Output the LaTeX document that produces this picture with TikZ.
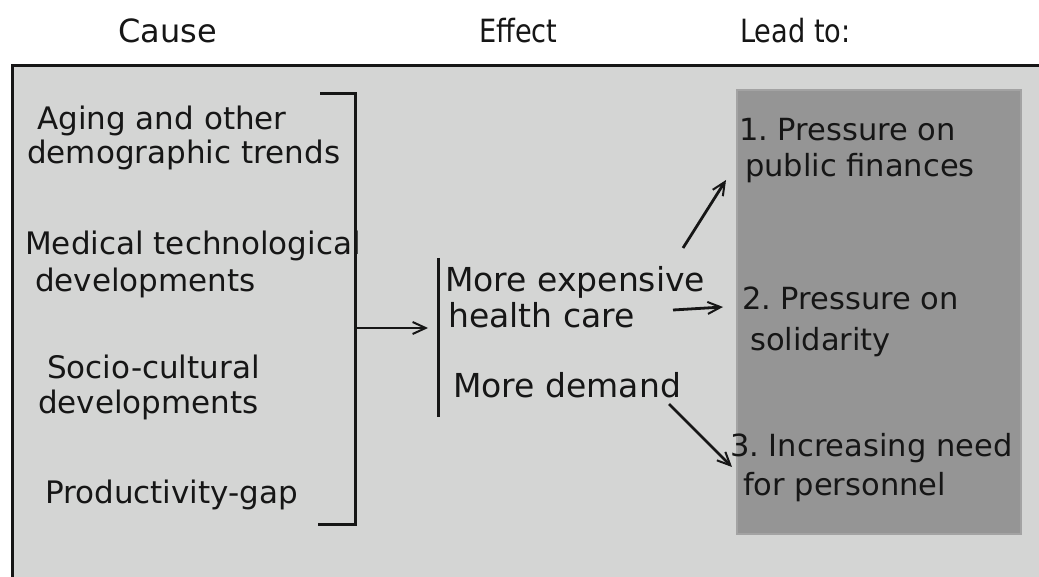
\documentclass[tikz,border=0pt]{standalone}
\usepackage{fontspec}
\setmainfont{DejaVu Sans}
\usetikzlibrary{arrows.meta}
\definecolor{panel}{HTML}{D4D5D4}
\definecolor{darkpanel}{HTML}{959595}
\definecolor{darkedge}{HTML}{A3A3A3}
\definecolor{ink}{HTML}{161616}
\frenchspacing
\begin{document}
\begin{tikzpicture}[x=1pt,y=-1pt,
  txt/.style={anchor=base west,inner sep=0pt,font=\fontsize{30.5}{36}\selectfont,text=ink},
  ltxt/.style={txt,font=\fontsize{31}{36}\selectfont},
  etxt/.style={txt,font=\fontsize{33}{38}\selectfont},
  htxt/.style={txt,font=\fontsize{32}{38}\selectfont},
  rule/.style={line width=3pt,draw=ink},
  arr/.style={line width=2.8pt,draw=ink,-{Straight Barb[length=13pt,width=12pt,line width=2pt]}}]
\useasboundingbox (0,0) rectangle (1039,577);
\clip (0,0) rectangle (1039,577);
% panels
\fill[white] (0,0) rectangle (1039,577);
\fill[panel] (12,66) rectangle (1045,590);
\draw[rule] (12,590) -- (12,66) -- (1045,66);
\filldraw[fill=darkpanel,draw=darkedge,line width=2pt] (737,90) rectangle (1021,534);
% headers
\node[htxt] (hcause) at (118,43) {Cause};
\node[htxt,xscale=0.85,transform shape] (heffect) at (479,43) {Effect};
\node[htxt,xscale=0.85,transform shape] (hlead) at (740,43) {Lead to:};
% causes
\node[ltxt] (c1a) at (37,130) {Aging and other};
\node[ltxt] (c1b) at (27,164) {demographic trends};
\node[ltxt] (c2a) at (25,255) {Medical technological};
\node[ltxt] (c2b) at (35,292) {developments};
\node[ltxt] (c3a) at (47,378) {Socio-cultural};
\node[ltxt] (c3b) at (38,413) {developments};
\node[ltxt] (c4) at (45,503) {Productivity-gap};
% bracket
\coordinate (btop) at (320,94);
\coordinate (btopr) at (355,94);
\coordinate (bbotr) at (355,524);
\coordinate (bbot) at (318,524);
\coordinate (bmid) at (355,328);
\draw[rule] (btop) -- (btopr) -- (bbotr) -- (bbot);
% effect bar
\coordinate (etop) at (438,258);
\coordinate (ebot) at (438,417);
\coordinate (emid) at (428,328);
\draw[rule] (etop) -- (ebot);
\draw[arr] (bmid) -- (emid);
% effects
\node[etxt] (e1a) at (445,292) {More expensive};
\node[etxt] (e1b) at (448,328) {health care};
\node[etxt] (e2) at (453,397) {More demand};
% consequences
\node[txt] (l1a) at (739,141) {1. Pressure on};
\node[txt] (l1b) at (745,177) {public finances};
\node[txt] (l2a) at (742,310) {2. Pressure on};
\node[txt] (l2b) at (750,350) {solidarity};
\node[txt] (l3a) at (730,456) {3. Increasing need};
\node[txt] (l3b) at (743,495) {for personnel};
% arrows
\coordinate (a1s) at (683,248);
\coordinate (a1e) at (726,180);
\coordinate (a2s) at (673,310);
\coordinate (a2e) at (723,307);
\coordinate (a3s) at (669,404);
\coordinate (a3e) at (732,467);
\draw[arr] (a1s) -- (a1e);
\draw[arr] (a2s) -- (a2e);
\draw[arr] (a3s) -- (a3e);
\end{tikzpicture}
\end{document}
